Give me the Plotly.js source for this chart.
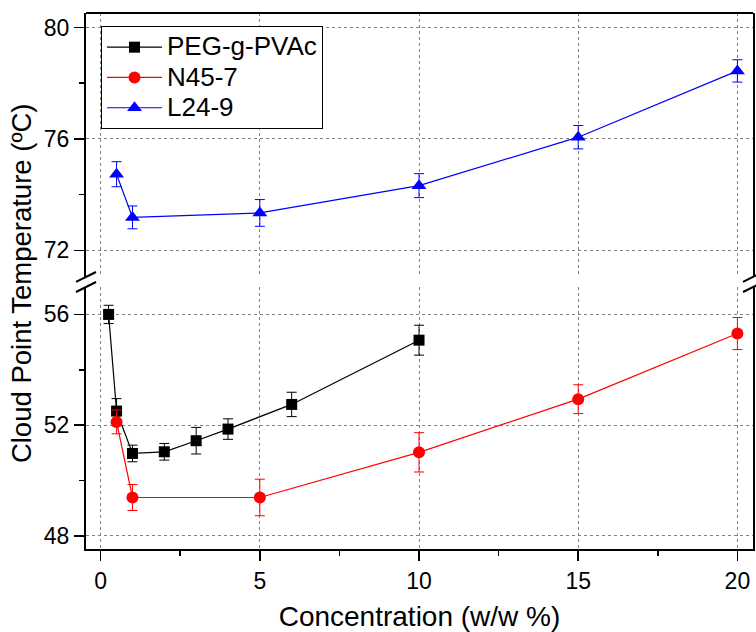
<!DOCTYPE html>
<html>
<head>
<meta charset="utf-8">
<script src="https://cdn.plot.ly/plotly-3.0.1.min.js"></script>
<style>html,body{margin:0;padding:0;background:#fff;}#chart{width:756px;height:632px;}</style>
</head>
<body>
<div id="chart"></div>
<script>
// Data
const concPEG = [0.25, 0.5, 1, 2, 3, 4, 6, 10];
const cpPEG   = [56.0, 52.51, 50.98, 51.04, 51.44, 51.86, 52.75, 55.07];
const errPEG  = [0.33, 0.45, 0.30, 0.30, 0.48, 0.37, 0.44, 0.54];

const concN45 = [0.5, 1, 5, 10, 15, 20];
const cpN45   = [52.12, 49.39, 49.39, 51.02, 52.94, 55.31];
const errN45  = [0.43, 0.47, 0.66, 0.71, 0.52, 0.58];

const concL24 = [0.5, 1, 5, 10, 15, 20];
const cpL24   = [74.73, 73.18, 73.34, 74.32, 76.06, 78.44];
const errL24  = [0.45, 0.41, 0.48, 0.43, 0.42, 0.40];

const seriesNames = ['PEG-g-PVAc', 'N45-7', 'L24-9'];

const FONT = 'Liberation Sans, Arial, sans-serif';

function mk(name, x, y, e, color, symbol, size, yaxis) {
  return {
    type: 'scatter', mode: 'lines+markers',
    name: '<span style="font-size:26px">' + name + '</span>',
    x: x, y: y, yaxis: yaxis, xaxis: 'x',
    line: {color: color, width: 1.2},
    marker: {color: color, symbol: symbol, size: size},
    error_y: {type: 'data', array: e, visible: true, color: color, thickness: 1, width: 5},
    cliponaxis: false
  };
}

const traces = [
  mk(seriesNames[0], concPEG, cpPEG, errPEG, '#000000', 'square', 11, 'y'),
  mk(seriesNames[1], concN45, cpN45, errN45, '#ff0000', 'circle', 12, 'y'),
  mk(seriesNames[2], concL24, cpL24, errL24, '#0000ff', 'triangle-up', 13, 'y2')
];

const gridCommon = {
  showgrid: true, gridcolor: '#808080', gridwidth: 1, griddash: '3px,3px',
  zeroline: false, showline: true, linecolor: '#000', linewidth: 2,
  ticks: 'outside', ticklen: 10, tickwidth: 1.5, tickcolor: '#000',
  tickfont: {family: FONT, size: 23, color: '#000'}
};

const yMinor = {dtick: 2, ticks: 'outside', ticklen: 5, tickwidth: 1.5, tickcolor: '#000', showgrid: false};

const layout = {
  width: 756, height: 632,
  margin: {l: 86, r: 3, t: 13, b: 83},
  paper_bgcolor: '#fff', plot_bgcolor: '#fff',
  font: {family: FONT, color: '#000'},
  showlegend: true,
  legend: {
    x: 0.0225, y: 0.9757, xanchor: 'left', yanchor: 'top',
    bgcolor: '#fff', bordercolor: '#000', borderwidth: 1,
    font: {family: FONT, size: 21, color: '#000'},
    itemwidth: 55
  },
  xaxis: Object.assign({}, gridCommon, {
    range: [-0.46, 20.49], tick0: 0, dtick: 5, anchor: 'y',
    minor: {dtick: 2.5, ticks: 'outside', ticklen: 5, tickwidth: 1.5, tickcolor: '#000', showgrid: false},
    title: {text: 'Concentration (w/w %)', font: {family: FONT, size: 28, color: '#000'}, standoff: 16}
  }),
  yaxis: Object.assign({}, gridCommon, {
    domain: [0, 0.4888], range: [47.53, 56.99], tick0: 48, dtick: 4,
    anchor: 'x', mirror: true, minor: yMinor
  }),
  yaxis2: Object.assign({}, gridCommon, {
    domain: [0.5075, 1], range: [71.04, 80.52], tick0: 72, dtick: 4,
    anchor: 'x', mirror: true, minor: yMinor
  }),
  annotations: [{
    text: 'Cloud Point Temperature (ºC)', xref: 'paper', yref: 'paper',
    x: -0.0975, y: 0.496, xanchor: 'center', yanchor: 'middle', textangle: -90,
    showarrow: false, font: {family: FONT, size: 27.5, color: '#000'}
  }],
  shapes: [
    // top frame line
    {type: 'line', xref: 'paper', yref: 'paper', x0: 0, x1: 1, y0: 1, y1: 1, line: {color: '#000', width: 2}},
    // axis break marks, left
    {type: 'line', xref: 'paper', yref: 'paper', x0: -0.015, x1: 0.015, y0: 0.4982, y1: 0.5168, line: {color: '#000', width: 2}},
    {type: 'line', xref: 'paper', yref: 'paper', x0: -0.015, x1: 0.015, y0: 0.4795, y1: 0.4981, line: {color: '#000', width: 2}},
    // axis break marks, right
    {type: 'line', xref: 'paper', yref: 'paper', x0: 0.985, x1: 1.015, y0: 0.4982, y1: 0.5168, line: {color: '#000', width: 2}},
    {type: 'line', xref: 'paper', yref: 'paper', x0: 0.985, x1: 1.015, y0: 0.4795, y1: 0.4981, line: {color: '#000', width: 2}}
  ]
};

Plotly.newPlot('chart', traces, layout, {displayModeBar: false, staticPlot: true});
</script>
</body>
</html>
